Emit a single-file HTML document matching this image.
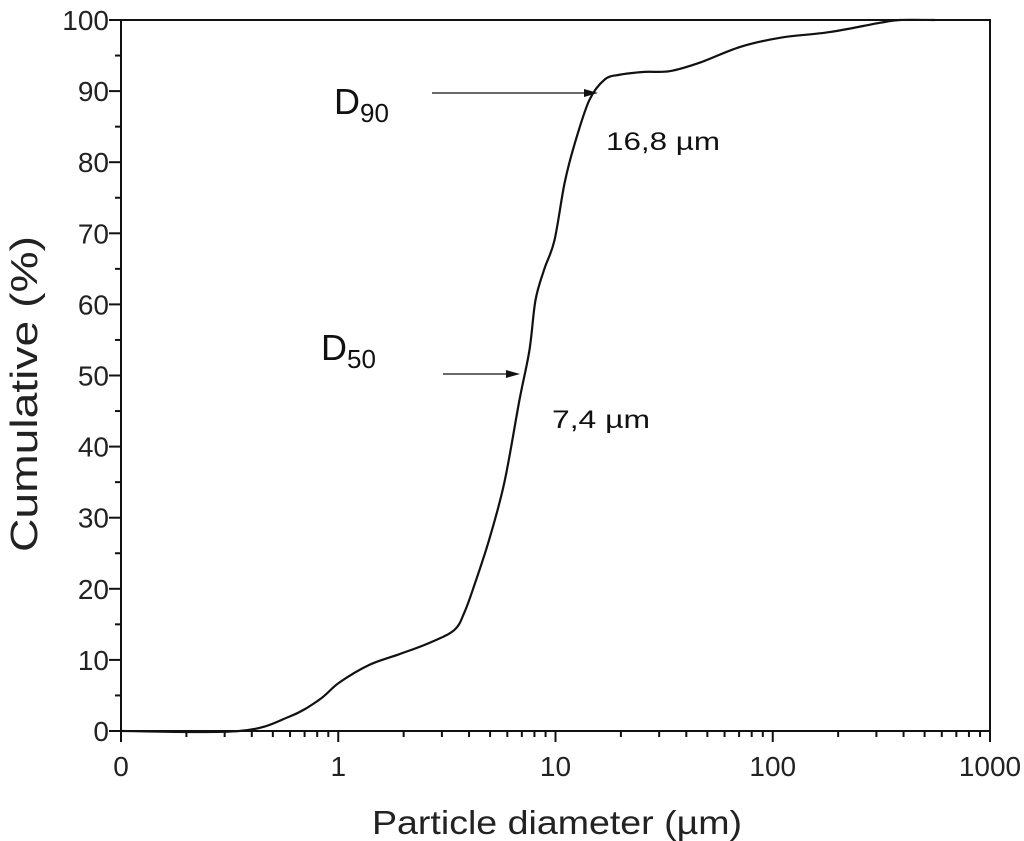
<!DOCTYPE html>
<html><head><meta charset="utf-8"><style>
body{margin:0;background:#fff;}
svg{display:block;font-family:"Liberation Sans",Arial,sans-serif;}
</style></head><body>
<svg id="chart" width="1024" height="841" viewBox="0 0 1024 841">
<g id="axes"></g>
<path id="curve" fill="none" stroke="#111" stroke-width="2.2"/>
<g fill="#111">
<text x="334" y="114" font-size="36">D<tspan font-size="26" dy="8">90</tspan></text>
<line x1="432" y1="93" x2="590" y2="93" stroke="#111" stroke-width="1.3"/>
<polygon points="598,93 584,89 584,97"/>
<text x="606" y="150" font-size="25" textLength="114" lengthAdjust="spacingAndGlyphs">16,8 µm</text>
<text x="321" y="360" font-size="36">D<tspan font-size="26" dy="8">50</tspan></text>
<line x1="443" y1="374" x2="512" y2="374" stroke="#111" stroke-width="1.3"/>
<polygon points="520,374 506,370 506,378"/>
<text x="552" y="428" font-size="25" textLength="98" lengthAdjust="spacingAndGlyphs">7,4 µm</text>
</g>
<text x="372" y="834" font-size="33" textLength="370" lengthAdjust="spacingAndGlyphs" fill="#222">Particle diameter (µm)</text>
<text transform="translate(37,394) rotate(-90)" font-size="38" text-anchor="middle" textLength="316" lengthAdjust="spacingAndGlyphs" fill="#222">Cumulative (%)</text>
</svg>
<script>
const diameters=[0.1,0.35,0.594,0.818,1.01,1.39,1.91,2.63,3.42,3.81,4.23,4.96,5.82,6.82,7.59,8.09,8.89,9.89,11.0,12.2,14.3,16.8,19.7,25.7,33.5,46.1,70.5,108,183,311,385,558];
const cumulative=[0,0,2,4.4,6.8,9.3,10.8,12.4,14.2,16.7,20.5,27,35,46.5,53.6,60.6,65,69,77,82.4,88.7,91.6,92.3,92.7,92.8,94,96.2,97.5,98.3,99.6,100,100];
const xTickValues=[0.1,1,10,100,1000];
const xTickLabels=["0","1","10","100","1000"];
const yTickValues=[0,10,20,30,40,50,60,70,80,90,100];
const L=121,R=990,T=20,B=731;
const xs=d=>L+(Math.log10(d)+1)/4*(R-L);
const ys=v=>B-v/100*(B-T);
const NS="http://www.w3.org/2000/svg";
const ax=document.getElementById('axes');
function mk(tag,attrs,parent){const e=document.createElementNS(NS,tag);for(const k in attrs)e.setAttribute(k,attrs[k]);(parent||ax).appendChild(e);return e;}
const frame=mk('rect',{x:L,y:T,width:R-L,height:B-T,fill:'none',stroke:'#111','stroke-width':2});


for(let v=0;v<=100;v+=5){const major=v%10===0;const t=mk('line',{x1:L,x2:L-(major?12:6),y1:ys(v),y2:ys(v),stroke:'#111','stroke-width':2});

}
yTickValues.forEach(v=>{const t=mk('text',{x:L-12,y:ys(v)+10,'font-size':28,'text-anchor':'end',fill:'#222'});t.textContent=v;

});
for(let e=-1;e<3;e++){for(let m=2;m<10;m++){const x=xs(m*Math.pow(10,e));const t=mk('line',{x1:x,x2:x,y1:B,y2:B+6,stroke:'#111','stroke-width':2});

}}
xTickValues.forEach((v,i)=>{const x=xs(v);const t=mk('line',{x1:x,x2:x,y1:B,y2:B+11,stroke:'#111','stroke-width':2});


const l=mk('text',{x:x,y:B+45,'font-size':28,'text-anchor':'middle',fill:'#222'});l.textContent=xTickLabels[i];

});
const pts=diameters.map((d,i)=>[xs(d),ys(cumulative[i])]);
let dstr='M'+pts[0][0]+','+pts[0][1];
for(let i=1;i<pts.length;i++){const p0=pts[Math.max(0,i-2)],p1=pts[i-1],p2=pts[i],p3=pts[Math.min(pts.length-1,i+1)];
const c1=[p1[0]+(p2[0]-p0[0])/6,p1[1]+(p2[1]-p0[1])/6],c2=[p2[0]-(p3[0]-p1[0])/6,p2[1]-(p3[1]-p1[1])/6];
dstr+=' C'+c1+' '+c2+' '+p2;}
document.getElementById('curve').setAttribute('d',dstr);
</script>
</body></html>
